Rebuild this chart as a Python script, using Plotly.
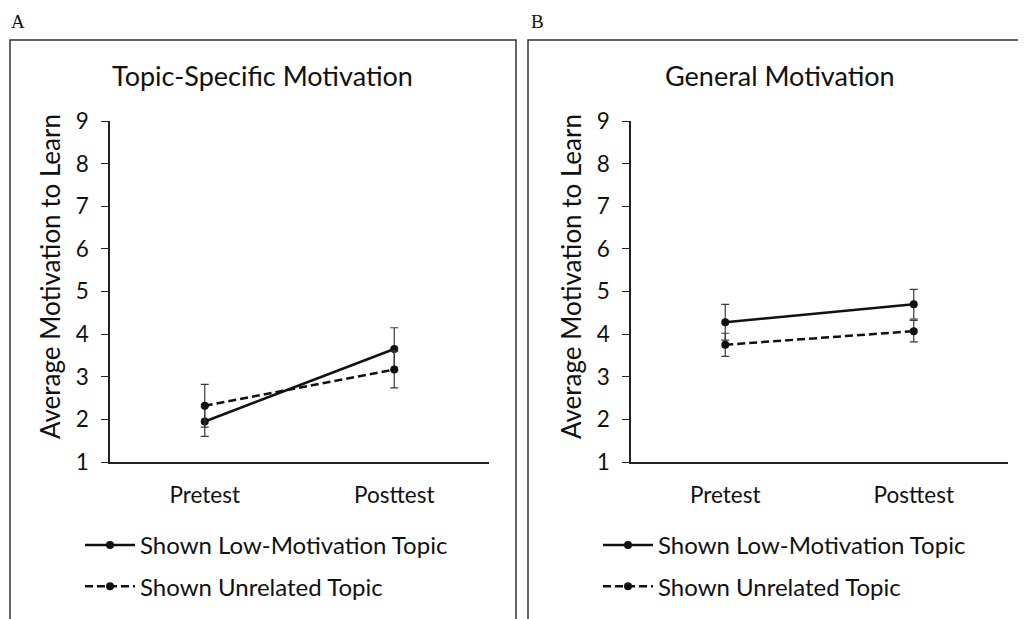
import plotly.graph_objects as go

W, H = 1026, 619
OFF = 8  # default page body margin offsets the figure

categories = ["Pretest", "Posttest"]
series_names = ["Shown Low-Motivation Topic", "Shown Unrelated Topic"]

a_low = [1.95, 3.65]
a_low_err = [0.35, 0.50]
a_unrel = [2.32, 3.17]
a_unrel_err = [0.50, 0.43]

b_low = [4.28, 4.70]
b_low_err = [0.42, 0.35]
b_unrel = [3.75, 4.07]
b_unrel_err = [0.27, 0.25]

y_ticks = [1, 2, 3, 4, 5, 6, 7, 8, 9]
panel_titles = ["Topic-Specific Motivation", "General Motivation"]
panel_letters = ["A", "B"]
y_title = "Average Motivation to Learn"

FONT = "Lato, 'Open Sans', sans-serif"
INK = "#111111"


def px(x):
    return (x - OFF) / W


def py(y):
    return 1 - (y - OFF) / H


fig = go.Figure()

panels = [
    (a_low, a_low_err, a_unrel, a_unrel_err, "x", "y", "legend"),
    (b_low, b_low_err, b_unrel, b_unrel_err, "x2", "y2", "legend2"),
]

for low, low_e, unr, unr_e, xa, ya, lg in panels:
    for name, vals, errs, dash, grp in [
        (series_names[0], low, low_e, "solid", "g1"),
        (series_names[1], unr, unr_e, "8px,4px", "g2"),
    ]:
        fig.add_trace(go.Scatter(
            x=categories, y=vals, name=name, mode="lines+markers",
            xaxis=xa, yaxis=ya, legend=lg, legendgroup=grp,
            line=dict(color=INK, width=2.5, dash=dash),
            marker=dict(color=INK, size=8, symbol="circle"),
            error_y=dict(type="data", array=errs, visible=True,
                         color="#3a3a3a", thickness=1.2, width=4),
        ))

axis_common_x = dict(
    type="category", range=[-0.5, 1.5], showline=True, linecolor="#222",
    linewidth=1.5, ticks="", showgrid=False, zeroline=False,
    tickfont=dict(family=FONT, size=22.5, color=INK), ticklabelstandoff=12,
    fixedrange=True,
)
axis_common_y = dict(
    range=[1, 9], tickvals=y_ticks, showline=True, linecolor="#222",
    linewidth=1.5, ticks="outside", ticklen=7, tickcolor="#222",
    tickwidth=1.2, showgrid=False, zeroline=False, ticklabelstandoff=8,
    tickfont=dict(family=FONT, size=22.5, color=INK),
    fixedrange=True,
)

legend_common = dict(
    xanchor="left", yanchor="top",
    font=dict(family=FONT, size=24, color=INK),
    tracegroupgap=7, bgcolor="rgba(0,0,0,0)", itemwidth=50,
)

fig.update_layout(
    width=W, height=H,
    margin=dict(l=0, r=0, t=0, b=0, pad=0, autoexpand=False),
    paper_bgcolor="white", plot_bgcolor="white",
    xaxis=dict(domain=[px(110), px(489)], anchor="y", **axis_common_x),
    yaxis=dict(domain=[py(462), py(121)], anchor="x", **axis_common_y),
    xaxis2=dict(domain=[px(631), px(1008)], anchor="y2", **axis_common_x),
    yaxis2=dict(domain=[py(462), py(121)], anchor="x2", **axis_common_y),
    legend=dict(x=px(80), y=py(523), **legend_common),
    legend2=dict(x=px(598), y=py(523), **legend_common),
    showlegend=True,
)

# panel frames
fig.add_shape(type="rect", xref="paper", yref="paper",
              x0=px(10), x1=px(516), y0=-0.05, y1=py(40),
              line=dict(color="#333", width=1.5))
fig.add_shape(type="rect", xref="paper", yref="paper",
              x0=px(528), x1=px(1025), y0=-0.05, y1=py(40),
              line=dict(color="#333", width=1.5))

# panel letters, titles and y-axis titles
for letter, xpos in zip(panel_letters, [9, 529]):
    fig.add_annotation(text=letter, xref="paper", yref="paper",
                       x=px(xpos), y=py(9), xanchor="left", yanchor="top",
                       showarrow=False,
                       font=dict(family="Liberation Serif, serif", size=19,
                                 color=INK))
for title, xc in zip(panel_titles, [262, 780]):
    fig.add_annotation(text=title, xref="paper", yref="paper",
                       x=px(xc), y=py(75), xanchor="center", yanchor="middle",
                       showarrow=False,
                       font=dict(family=FONT, size=27, color=INK))
for xc in [50, 571]:
    fig.add_annotation(text=y_title, xref="paper", yref="paper",
                       x=px(xc), y=py(277), xanchor="center", yanchor="middle",
                       textangle=-90, showarrow=False,
                       font=dict(family=FONT, size=26, color=INK))

fig.write_html("out.html")
